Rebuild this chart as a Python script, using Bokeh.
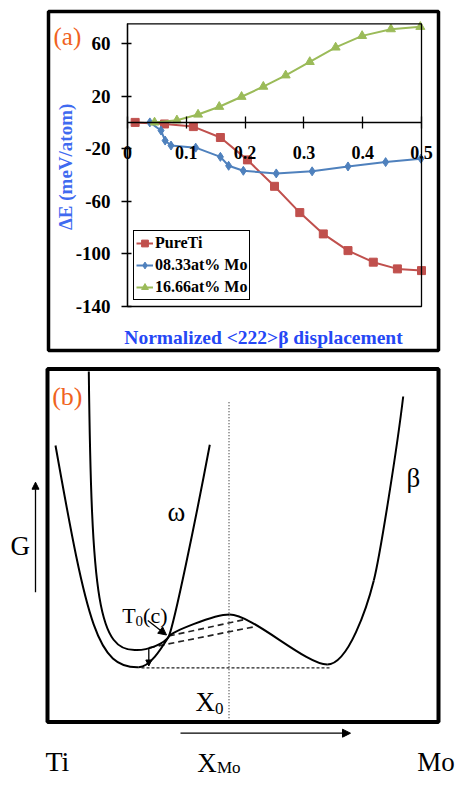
import math
from bokeh.plotting import figure
from bokeh.models import (Range1d, FixedTicker, BoxAnnotation, Label, Legend,
                          LegendItem, Arrow, NormalHead)
from bokeh.layouts import column
from bokeh.embed import file_html
from bokeh.resources import INLINE

# ---------------- panel (a) data ----------------
pure_ti_x = [0.013, 0.063, 0.112, 0.158, 0.204, 0.250, 0.293, 0.333, 0.375, 0.418, 0.459, 0.500]
pure_ti_y = [0.0, -1.2, -3.2, -11.5, -28.5, -48.6, -68.6, -84.8, -97.5, -106.3, -111.4, -112.7]

mo08_x = [0.038, 0.057, 0.064, 0.074, 0.116, 0.158, 0.172, 0.197, 0.253, 0.314, 0.375, 0.439, 0.499]
mo08_y = [0.0, -6.2, -13.8, -17.6, -19.2, -26.2, -33.0, -36.8, -38.8, -37.2, -33.5, -30.2, -27.6]

mo16_x = [0.046, 0.084, 0.120, 0.156, 0.194, 0.231, 0.269, 0.310, 0.354, 0.399, 0.448, 0.498]
mo16_y = [0.0, 1.6, 6.0, 11.9, 19.5, 27.2, 35.8, 46.0, 57.0, 65.8, 70.9, 72.7]

series_names = ["PureTi", "08.33at% Mo", "16.66at% Mo"]
series_colors = ["#C0504D", "#4F81BD", "#9BBB59"]
series_markers = ["square", "diamond", "triangle"]

x_ticks = [0, 0.1, 0.2, 0.3, 0.4, 0.5]
x_tick_labels = ["0", "0.1", "0.2", "0.3", "0.4", "0.5"]
y_ticks = [-140, -100, -60, -20, 20, 60]
y_tick_labels = ["-140", "-100", "-60", "-20", "20", "60"]
X_MIN, X_MAX = 0.0, 0.5
Y_MIN, Y_MAX = -140.0, 75.0

# ---------------- panel (b) schematic (read in page pixels) ----------------
# beta free-energy curve, cubic bezier segments
beta_x0 = [55.0, 138.3, 168.3, 229.0, 326.7, 373.3]
beta_y0 = [445.0, 666.7, 636.0, 614.0, 664.0, 580.0]
beta_cx0 = [87.0, 150.0, 171.0, 252.0, 348.0, 379.6]
beta_cy0 = [625.0, 666.7, 631.7, 614.0, 664.0, 555.0]
beta_cx1 = [97.0, 162.0, 213.0, 305.0, 367.0, 396.8]
beta_cy1 = [668.0, 646.0, 614.0, 664.0, 605.0, 446.0]
beta_x1 = [138.3, 168.3, 229.0, 326.7, 373.3, 402.7]
beta_y1 = [666.7, 636.0, 614.0, 664.0, 580.0, 396.0]
# omega free-energy curve
omega_x0 = [88.3, 136.5, 168.3]
omega_y0 = [371.0, 649.5, 636.0]
omega_cx0 = [91.0, 147.0, 174.0]
omega_cy0 = [600.0, 649.5, 622.0]
omega_cx1 = [98.0, 164.0, 195.0]
omega_cy1 = [652.0, 643.5, 520.0]
omega_x1 = [136.5, 168.3, 209.3]
omega_y1 = [649.5, 636.0, 444.3]
# common-tangent / construction lines
tangent_xs = [[168.3, 243.0], [148.3, 255.0]]
tangent_ys = [[635.5, 619.3], [647.3, 626.0]]
base_x = [141.0, 330.0]
base_y = [667.3, 667.3]
x0_line_x = [228.5, 228.5]
x0_line_y = [401.7, 721.0]

W = 458
HA = 360
HB = 785 - HA
FONT = "Liberation Serif"
ORANGE = "#F0631E"

# pixel layout of panel (a)
PX0, PXS = 127.0, 588.0      # px of x=0, px per unit
PY0, PYS = 121.9, 1.315      # px of y=0, px per unit


def ax(px):
    return (px - PX0) / PXS


def ay(py):
    return (PY0 - py) / PYS


pa = figure(width=W, height=HA, output_backend="svg", toolbar_location=None,
            x_range=Range1d(ax(0), ax(W)), y_range=Range1d(ay(HA), ay(0)),
            min_border=0, min_border_left=0, min_border_right=0,
            min_border_top=0, min_border_bottom=0)
pa.outline_line_color = None
pa.grid.visible = False
pa.background_fill_color = "white"
pa.border_fill_color = "white"

# outer panel frame
pa.add_layout(BoxAnnotation(left=ax(48), right=ax(438), top=ay(11), bottom=ay(350),
                            fill_color=None, line_color="black", line_alpha=1.0,
                            line_width=3.5))
# plot area frame
pa.add_layout(BoxAnnotation(left=X_MIN, right=X_MAX, top=Y_MAX, bottom=Y_MIN,
                            fill_color=None, line_color="black", line_alpha=1.0,
                            line_width=1.3))

xa = pa.xaxis[0]
xa.fixed_location = 0
xa.bounds = (X_MIN, X_MAX)
xa.ticker = FixedTicker(ticks=x_ticks)
xa.major_label_overrides = {t: l for t, l in zip(x_ticks, x_tick_labels)}
xa.major_tick_in = 6
xa.major_tick_out = 6
xa.major_label_standoff = 18

ya = pa.yaxis[0]
ya.fixed_location = 0
ya.bounds = (Y_MIN, Y_MAX)
ya.ticker = FixedTicker(ticks=y_ticks)
ya.major_label_overrides = {t: l for t, l in zip(y_ticks, y_tick_labels)}
ya.major_tick_in = 4
ya.major_tick_out = 6
ya.major_label_standoff = 11

for a, fs in ((xa, "18px"), (ya, "19px")):
    a.axis_line_color = "black"
    a.axis_line_width = 1.3
    a.major_tick_line_color = "black"
    a.major_tick_line_width = 1.3
    a.minor_tick_line_color = None
    a.major_label_text_font = FONT
    a.major_label_text_font_style = "bold"
    a.major_label_text_font_size = fs
    a.major_label_text_color = "black"

items = []
for name, xs, ys, col, mk in zip(series_names, [pure_ti_x, mo08_x, mo16_x],
                                 [pure_ti_y, mo08_y, mo16_y], series_colors, series_markers):
    r1 = pa.line(xs, ys, line_color=col, line_width=2)
    size = 8 if mk == "square" else 9
    r2 = pa.scatter(xs, ys, marker=mk, size=size, fill_color=col, line_color=col)
    items.append(LegendItem(label=name, renderers=[r1, r2]))

legend = Legend(items=items, location=(133, HA - 300))
legend.label_text_font = FONT
legend.label_text_font_style = "bold"
legend.label_text_font_size = "16px"
legend.label_text_color = "black"
legend.border_line_color = "black"
legend.border_line_alpha = 1.0
legend.border_line_width = 1.2
legend.padding = 2
legend.spacing = 2
legend.label_height = 20
legend.glyph_height = 20
legend.glyph_width = 17
legend.label_standoff = 2
legend.margin = 0
pa.add_layout(legend)

pa.add_layout(Label(x=ax(65), y=ay(164), text="\u0394E  (meV/atom)", angle=math.pi / 2,
                    text_align="center", text_baseline="middle", text_font=FONT,
                    text_font_style="bold", text_font_size="19px", text_color="#3F6AF0"))
pa.add_layout(Label(x=ax(263), y=ay(336.5), text="Normalized <222>\u03b2 displacement",
                    text_align="center", text_baseline="alphabetic", text_font=FONT,
                    text_font_style="bold", text_font_size="19.5px", text_color="#2547F5"))
pa.add_layout(Label(x=ax(53), y=ay(36), text="(a)", text_align="left",
                    text_baseline="alphabetic", text_font=FONT, text_font_size="25px",
                    text_color=ORANGE))

# ---------------- panel (b) ----------------
TOP_B = HA
pb = figure(width=W, height=HB, output_backend="svg", toolbar_location=None,
            x_range=Range1d(0, W), y_range=Range1d(TOP_B + HB, TOP_B),
            x_axis_type=None, y_axis_type=None,
            min_border=0, min_border_left=0, min_border_right=0,
            min_border_top=0, min_border_bottom=0)
pb.outline_line_color = None
pb.grid.visible = False
pb.background_fill_color = "white"
pb.border_fill_color = "white"

pb.add_layout(BoxAnnotation(left=47, right=438, top=368.5, bottom=721.5,
                            fill_color=None, line_color="black", line_alpha=1.0,
                            line_width=4))

pb.line(x0_line_x, x0_line_y, line_color="#333333", line_width=1.2, line_dash="1 2")
pb.line(base_x, base_y, line_color="#222222", line_width=1.3, line_dash="3 2")
pb.multi_line(tangent_xs, tangent_ys, line_color="#222222", line_width=1.7, line_dash="6 4")

pb.bezier(x0=beta_x0, y0=beta_y0, x1=beta_x1, y1=beta_y1, cx0=beta_cx0, cy0=beta_cy0,
          cx1=beta_cx1, cy1=beta_cy1, line_color="black", line_width=2)
pb.bezier(x0=omega_x0, y0=omega_y0, x1=omega_x1, y1=omega_y1, cx0=omega_cx0, cy0=omega_cy0,
          cx1=omega_cx1, cy1=omega_cy1, line_color="black", line_width=2)

arrows = [((35, 591.7), (35, 481.7), 7), ((147.3, 620), (166, 634.5), 8),
          ((148.3, 648), (148.3, 665.5), 6), ((180, 732.7), (350, 732.7), 8)]
for (xs_, ys_), (xe, ye), hs in arrows:
    pb.add_layout(Arrow(x_start=xs_, y_start=ys_, x_end=xe, y_end=ye, line_width=1.3,
                        line_color="black",
                        end=NormalHead(size=hs, fill_color="black", line_color="black")))


def lab(x, y, t, size, color="black", align="left"):
    pb.add_layout(Label(x=x, y=y, text=t, text_align=align, text_baseline="alphabetic",
                        text_font=FONT, text_font_size=size, text_color=color))


lab(51.7, 396, "(b)", "26px", ORANGE)
lab(167, 511, "\u03c9", "27px")
lab(406, 477, "\u03b2", "27px")
lab(10, 545, "G", "27px")
lab(121.7, 615, "T", "22px")
lab(135.1, 620, "0", "15px")
lab(142.6, 615, "(c)", "22px")
lab(195, 701.7, "X", "27px")
lab(214.5, 708, "0", "17px")
lab(45, 761, "Ti", "28px")
lab(416.7, 761, "Mo", "27px")
lab(196.7, 762, "X", "27px")
lab(216.5, 767, "Mo", "17px")

layout = column(pa, pb, spacing=0)
open("out.html", "w").write(file_html(layout, INLINE))
